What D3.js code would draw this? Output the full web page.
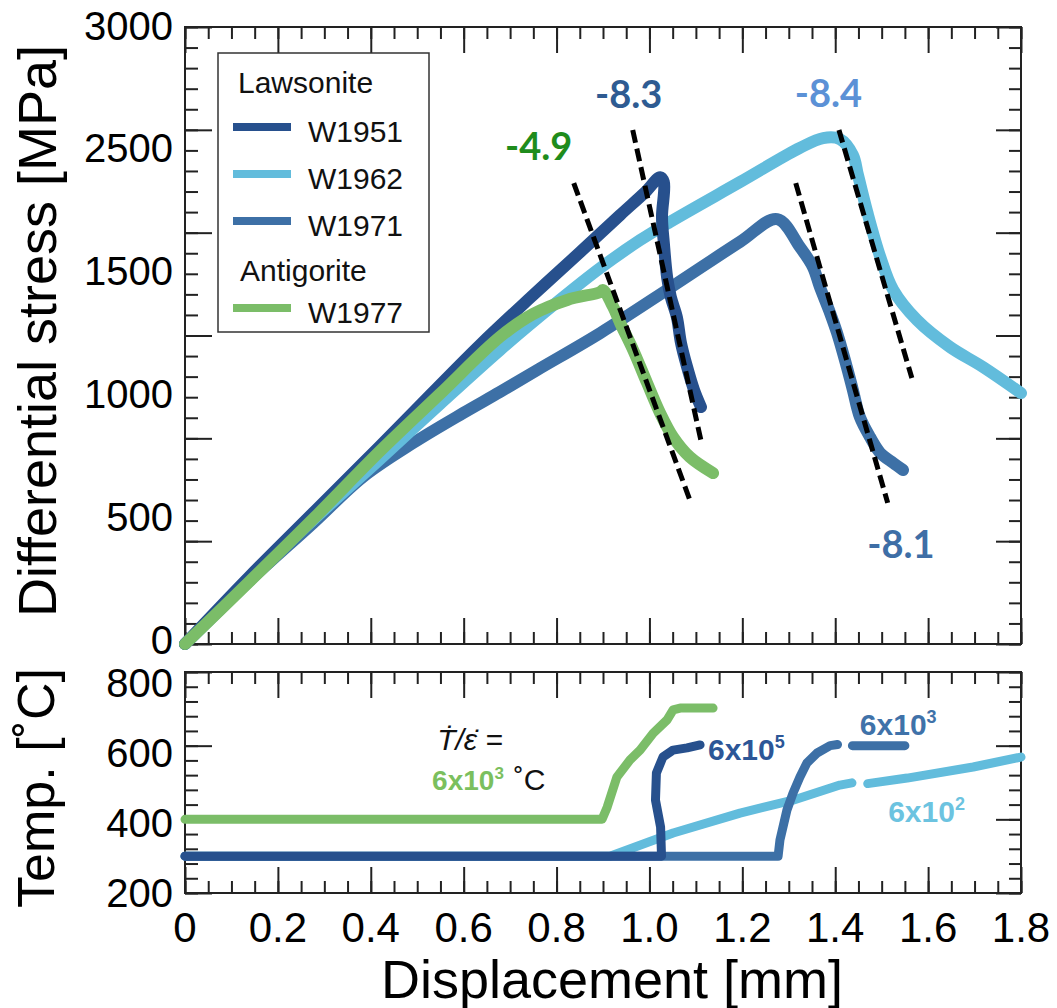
<!DOCTYPE html>
<html>
<head>
<meta charset="utf-8">
<script src="https://cdn.jsdelivr.net/npm/d3@7"></script>
<style>
  body { margin: 0; background: #fff; }
  text { font-family: "Liberation Sans", Arial, Helvetica, sans-serif; }
</style>
</head>
<body>
<svg id="chart" width="1057" height="1008"></svg>
<script>
// stress vs displacement, [mm, MPa]
var w1951Stress = [[0,0],[0.140,331],[0.280,647],[0.420,963],[0.528,1211],[0.635,1454],[0.743,1683],[0.851,1906],
  [0.937,2086],[0.991,2197],[1.023,2270],[1.031,2246],[1.027,2076],[1.031,1950],
  [1.038,1784],[1.046,1687],[1.059,1590],[1.068,1463],[1.081,1347],[1.096,1235],[1.111,1152]];
var w1962Stress = [[0,0],[0.248,545],[0.420,899],[0.549,1167],[0.678,1429],[0.807,1673],[0.894,1828],[0.980,1964],
  [1.044,2052],[1.195,2246],[1.324,2412],[1.374,2460],[1.410,2455],[1.438,2378],[1.449,2280],[1.469,2100],[1.497,1882],
  [1.525,1721],[1.576,1575],[1.647,1444],[1.718,1347],[1.800,1220]];
var w1971Stress = [[0,0],[0.134,297],[0.276,588],[0.383,812],[0.491,977],[0.599,1123],[0.678,1225],[0.758,1332],
  [0.894,1512],[1.044,1731],[1.195,1955],[1.275,2066],[1.324,1930],[1.352,1833],[1.367,1736],[1.389,1609],
  [1.404,1512],[1.425,1347],[1.438,1235],[1.453,1104],[1.475,1006],[1.497,929],[1.525,880],[1.546,846]];
var w1977Stress = [[0,0],[0.140,306],[0.280,617],[0.420,938],[0.549,1216],[0.678,1493],[0.749,1604],
  [0.823,1673],[0.894,1711],[0.900,1721],[0.922,1638],[0.937,1561],[0.965,1429],[0.995,1269],[1.023,1123],
  [1.051,1006],[1.087,909],[1.137,831]];

// temperature vs displacement, [mm, degC]; NaN = gap in the record
var w1951Temp = [[0,300],[1.026,300],[1.024,379],[1.013,452],[1.015,526],[1.029,569],[1.051,588],[1.081,594],[1.109,602]];
var w1962Temp = [[0,300],[0.915,300],[1.051,363],[1.195,417],[1.309,452],[1.410,493],[1.436,499],[1.45,NaN],
  [1.470,497],[1.555,512],[1.697,542],[1.800,569]];
var w1971Temp = [[0,300],[1.277,300],[1.281,344],[1.296,425],[1.309,471],[1.324,515],[1.339,553],[1.361,580],
  [1.389,600],[1.405,603],[1.42,NaN],[1.437,600],[1.550,600]];
var w1977Temp = [[0,400],[0.898,400],[0.909,433],[0.930,515],[0.958,561],[0.980,588],[1.008,634],[1.038,670],
  [1.051,697],[1.066,702],[1.137,702]];

var names  = ["W1951", "W1962", "W1971", "W1977"];
var colors = ["#27508d", "#62bcdc", "#3d70a6", "#7bbd68"];
var groups = ["Lawsonite", "Lawsonite", "Lawsonite", "Antigorite"];

// weakening slopes drawn as dashed guides
var slopeLabels = ["-4.9", "-8.3", "-8.1", "-8.4"];
var slopeColors = ["#1f8c1c", "#2e5b92", "#3e6ea6", "#5b91d6"];
var slopeStart  = [[0.837,2241],[0.964,2499],[1.315,2241],[1.408,2499]];
var slopeEnd    = [[1.087,700],[1.113,968],[1.513,686],[1.565,1293]];
var slopeLabelAt = [[0.689,2353],[0.883,2606],[1.469,418],[1.313,2611]];

// heating rate labels in the temperature panel
var rateLabels = ["6x10|5", "6x10|3", "6x10|2"];
var rateColors = ["#2c5697", "#3f72a9", "#6cc3e0"];
var rateAt     = [[1.126,561],[1.453,629],[1.514,393]];

var xTickLabels = ["0","0.2","0.4","0.6","0.8","1.0","1.2","1.4","1.6","1.8"];
var stressTickLabels = ["0","500","1000","1500","2500","3000"];
var tempTickLabels = ["200","400","600","800"];

var svg = d3.select("#chart");
var left = 185, right = 1021;
var x  = d3.scaleLinear().domain([0, 1.8]).range([left, right]);
var yS = d3.scaleLinear().domain([0, 3000]).range([644, 27]);
var yT = d3.scaleLinear().domain([200, 800]).range([893, 672]);

// tick labels sit on evenly spaced slots, as in the figure
var yLab  = d3.scalePoint().domain(stressTickLabels).range([640, 25.5]);
var yLabT = d3.scalePoint().domain(tempTickLabels).range([892, 682]);

function ticks(g, axisFn, scale, values, size) {
  g.call(axisFn(scale).tickValues(values).tickSize(size).tickSizeOuter(0).tickFormat(""));
  g.select(".domain").remove();
  g.selectAll("line").attr("stroke", "#222").attr("stroke-width", 2);
}

var xMinor = d3.range(0, 37).map(function(i) { return i * 0.05; });
var xMajor = d3.range(0, 10).map(function(i) { return i * 0.2; });

function panel(yScale, minor, major) {
  var t = yScale.range()[1], b = yScale.range()[0];
  var g = svg.append("g");
  ticks(g.append("g").attr("transform", "translate(0," + t + ")"), d3.axisBottom, x, xMinor, 12);
  ticks(g.append("g").attr("transform", "translate(0," + t + ")"), d3.axisBottom, x, xMajor, 26);
  ticks(g.append("g").attr("transform", "translate(0," + b + ")"), d3.axisTop, x, xMinor, 12);
  ticks(g.append("g").attr("transform", "translate(0," + b + ")"), d3.axisTop, x, xMajor, 26);
  ticks(g.append("g").attr("transform", "translate(" + left + ",0)"), d3.axisRight, yScale, minor, 13);
  ticks(g.append("g").attr("transform", "translate(" + left + ",0)"), d3.axisRight, yScale, major, 27);
  ticks(g.append("g").attr("transform", "translate(" + right + ",0)"), d3.axisLeft, yScale, minor, 12);
  ticks(g.append("g").attr("transform", "translate(" + right + ",0)"), d3.axisLeft, yScale, major, 25);
  g.append("rect").attr("x", left).attr("y", t).attr("width", right - left).attr("height", b - t)
    .attr("fill", "none").attr("stroke", "#222").attr("stroke-width", 2);
}
panel(yS, d3.range(0, 3001, 100), d3.range(0, 3001, 500));
panel(yT, d3.range(200, 801, 40), [200, 400, 600, 800]);

var stressData = [w1951Stress, w1962Stress, w1971Stress, w1977Stress];
var tempData = [w1951Temp, w1962Temp, w1971Temp, w1977Temp];

var lineS = d3.line().x(function(d) { return x(d[0]); }).y(function(d) { return yS(d[1]); })
  .curve(d3.curveCatmullRom.alpha(0.5));
var lineT = d3.line().defined(function(d) { return !isNaN(d[1]); })
  .x(function(d) { return x(d[0]); }).y(function(d) { return yT(d[1]); });

// draw order: medium, light, dark, green on top
svg.append("g").selectAll("path").data([2, 1, 0, 3]).enter().append("path")
  .attr("d", function(i) { return lineS(stressData[i]); })
  .attr("fill", "none").attr("stroke", function(i) { return colors[i]; })
  .attr("stroke-width", 12).attr("stroke-linejoin", "round").attr("stroke-linecap", "round");

svg.append("g").selectAll("path").data([1, 2, 0, 3]).enter().append("path")
  .attr("d", function(i) { return lineT(tempData[i]); })
  .attr("fill", "none").attr("stroke", function(i) { return colors[i]; })
  .attr("stroke-width", 9).attr("stroke-linejoin", "round").attr("stroke-linecap", "round");

// dashed slope guides
svg.append("g").selectAll("line").data(slopeStart).enter().append("line")
  .attr("x1", function(d) { return x(d[0]); }).attr("y1", function(d) { return yS(d[1]); })
  .attr("x2", function(d, i) { return x(slopeEnd[i][0]); }).attr("y2", function(d, i) { return yS(slopeEnd[i][1]); })
  .attr("stroke", "#000").attr("stroke-width", 5).attr("stroke-dasharray", "13,6");

svg.append("g").selectAll("text").data(slopeLabels).enter().append("text")
  .attr("x", function(d, i) { return x(slopeLabelAt[i][0]); })
  .attr("y", function(d, i) { return yS(slopeLabelAt[i][1]); })
  .style("font-family", "Lato, 'Open Sans', sans-serif").style("font-weight", "bold")
  .style("font-size", "38px").attr("fill", function(d, i) { return slopeColors[i]; })
  .text(function(d) { return d; });

// rate labels with superscripts
var rl = svg.append("g").selectAll("text").data(rateLabels).enter().append("text")
  .attr("x", function(d, i) { return x(rateAt[i][0]); })
  .attr("y", function(d, i) { return yT(rateAt[i][1]); })
  .style("font-weight", "bold").style("font-size", "30px")
  .attr("fill", function(d, i) { return rateColors[i]; });
rl.append("tspan").text(function(d) { return d.split("|")[0]; });
rl.append("tspan").attr("dy", -12).style("font-size", "18px").text(function(d) { return d.split("|")[1]; });

// rate-ratio note
svg.append("text").attr("x", x(0.543)).attr("y", yT(588))
  .style("font-style", "italic").style("font-size", "30px").attr("fill", "#111")
  .text("T\u0307/\u03B5\u0307 =");
var gr = svg.append("text").attr("x", x(0.532)).attr("y", yT(480))
  .style("font-weight", "bold").style("font-size", "28px").attr("fill", "#7bbf5e");
gr.append("tspan").text("6x10");
gr.append("tspan").attr("dy", -11).style("font-size", "17px").text("3");
svg.append("text").attr("x", x(0.708)).attr("y", yT(480))
  .style("font-size", "30px").attr("fill", "#111").text("\u02DAC");

// tick labels
svg.append("g").selectAll("text").data(xTickLabels).enter().append("text")
  .attr("x", function(d, i) { return x(i * 0.2); }).attr("y", 942)
  .attr("text-anchor", "middle").style("font-size", "42px").text(function(d) { return d; });
svg.append("g").selectAll("text").data(stressTickLabels).enter().append("text")
  .attr("x", 173).attr("y", function(d) { return yLab(d) + 14; })
  .attr("text-anchor", "end").style("font-size", "40px").text(function(d) { return d; });
svg.append("g").selectAll("text").data(tempTickLabels).enter().append("text")
  .attr("x", 173).attr("y", function(d) { return yLabT(d) + 15; })
  .attr("text-anchor", "end").style("font-size", "40px").text(function(d) { return d; });

// axis titles
svg.append("text").attr("transform", "translate(56,331) rotate(-90)").attr("text-anchor", "middle")
  .style("font-size", "54px").text("Differential stress [MPa]");
svg.append("text").attr("transform", "translate(54,788) rotate(-90)").attr("text-anchor", "middle")
  .style("font-size", "52px").text("Temp. [\u02DAC]");
svg.append("text").attr("x", 612).attr("y", 998).attr("text-anchor", "middle")
  .style("font-size", "54px").text("Displacement [mm]");

// legend
var lg = svg.append("g");
lg.append("rect").attr("x", 218).attr("y", 53).attr("width", 211).attr("height", 279)
  .attr("fill", "#fff").attr("stroke", "#333").attr("stroke-width", 1.5);
var legY = [127, 174, 221, 308];
lg.append("text").attr("x", 238).attr("y", 93).style("font-size", "30px").attr("fill", "#111").text(groups[0]);
lg.append("text").attr("x", 240).attr("y", 281).style("font-size", "30px").attr("fill", "#111").text(groups[3]);
lg.selectAll("line.sw").data(names).enter().append("line").attr("class", "sw")
  .attr("x1", 233).attr("x2", 291)
  .attr("y1", function(d, i) { return legY[i]; }).attr("y2", function(d, i) { return legY[i]; })
  .attr("stroke", function(d, i) { return colors[i]; }).attr("stroke-width", 8);
lg.selectAll("text.nm").data(names).enter().append("text").attr("class", "nm")
  .attr("x", 308).attr("y", function(d, i) { return legY[i] + 15; })
  .style("font-size", "30px").attr("fill", "#111").text(function(d) { return d; });
</script>
</body>
</html>
